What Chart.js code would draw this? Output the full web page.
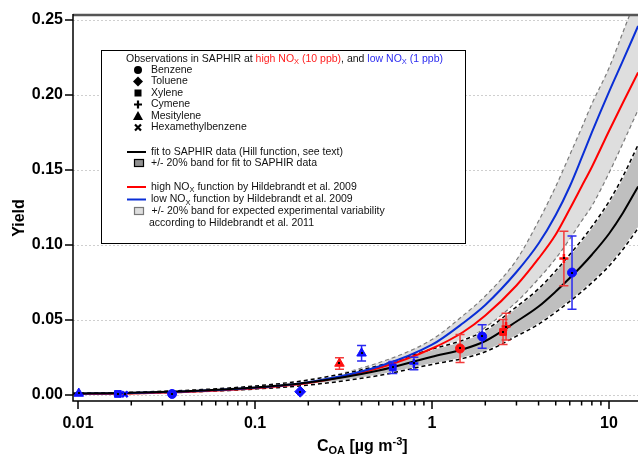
<!DOCTYPE html>
<html><head><meta charset="utf-8">
<script src="https://cdn.jsdelivr.net/npm/chart.js@4"></script>
<style>html,body{margin:0;padding:0;background:#fff;}canvas{display:block;}</style>
</head><body>
<canvas id="c" width="638" height="456"></canvas>
<script>
// ---------- data ----------
const curveX    = [0.0094, 0.02, 0.05, 0.1, 0.2, 0.5, 1, 1.5, 2, 3, 4, 5, 6, 7, 8, 10, 12, 14.6];
const fitY      = [0.0010,0.0015,0.0030,0.0050,0.0083,0.0163,0.0255,0.0305,0.0360,0.0490,0.0590,0.0690,0.0780,0.0860,0.0935,0.1075,0.1215,0.1390];
const fitUpperY = [0.0012,0.0018,0.0036,0.0060,0.0100,0.0196,0.0306,0.0366,0.0432,0.0588,0.0708,0.0828,0.0936,0.1032,0.1122,0.1290,0.1458,0.1668];
const fitLowerY = [0.0008,0.0012,0.0024,0.0040,0.0066,0.0130,0.0204,0.0244,0.0288,0.0392,0.0472,0.0552,0.0624,0.0688,0.0748,0.0860,0.0972,0.1112];
const highNOxY  = [0.0006,0.0010,0.0025,0.0045,0.0080,0.0180,0.0310,0.0420,0.0530,0.0730,0.0910,0.1070,0.1240,0.1390,0.1520,0.1760,0.1950,0.2150];
const lowNOxY   = [0.0008,0.0013,0.0028,0.0048,0.0085,0.0190,0.0335,0.0480,0.0600,0.0820,0.1010,0.1200,0.1390,0.1580,0.1750,0.2020,0.2230,0.2460];
const hildUpperY= [0.0010,0.0016,0.0033,0.0056,0.0098,0.0215,0.0370,0.0530,0.0660,0.0900,0.1160,0.1390,0.1600,0.1780,0.1940,0.2180,0.2420,0.2680];
const hildLowerY= [0.0005,0.0008,0.0021,0.0038,0.0067,0.0150,0.0260,0.0355,0.0450,0.0620,0.0775,0.0910,0.1040,0.1160,0.1260,0.1480,0.1680,0.1900];

const obsX        = [0.0101, 0.0168, 0.0184, 0.034, 0.18, 0.30, 0.40, 0.60, 0.79, 1.44, 1.92, 2.52, 2.62, 5.56, 6.18];
const obsY        = [0.0010, 0.0007, 0.0005, 0.0007, 0.0022, 0.0210, 0.0278, 0.0184, 0.0210, 0.0310, 0.0390, 0.0420, 0.0456, 0.0910, 0.0816];
const obsErr      = [0, 0, 0, 0, 0, 0.0039, 0.0052, 0.0040, 0.0041, 0.0093, 0.0078, 0.0083, 0.0089, 0.0182, 0.0244];
const obsNOx      = ['low','low','low','low','low','high','low','low','low','high','low','high','high','high','low'];
const obsCompound = ['Mesitylene','Xylene','Hexamethylbenzene','Benzene','Toluene','Mesitylene','Mesitylene','Xylene','Cymene','Benzene','Benzene','Xylene','Cymene','Cymene','Benzene'];

const compounds   = ['Benzene','Toluene','Xylene','Cymene','Mesitylene','Hexamethylbenzene'];
const yTicks      = [0, 0.05, 0.10, 0.15, 0.20, 0.25];
const xMajorTicks = [0.01, 0.1, 1, 10];
const xMinorTicks = [0.02,0.03,0.04,0.05,0.06,0.07,0.08,0.09,0.2,0.3,0.4,0.5,0.6,0.7,0.8,0.9,2,3,4,5,6,7,8,9];

// ---------- styles ----------
const FONT = '"Liberation Sans", Arial, sans-serif';
const RED = '#ff0000', BLUE = '#0a2fd6';
const noxColor = {high: '#ff1010', low: '#1010ff'};
const barColor = {high: '#f23a3a', low: '#2a2af0'};
const styleOf = {
  Benzene: {pointStyle:'circle', radius:4.5, bw:1},
  Toluene: {pointStyle:'rectRot', radius:5.5, bw:1},
  Xylene: {pointStyle:'rect', radius:4.8, bw:1},
  Cymene: {pointStyle:'cross', radius:4.5, bw:2.5},
  Mesitylene: {pointStyle:'triangle', radius:5.5, bw:1},
  Hexamethylbenzene: {pointStyle:'crossRot', radius:4, bw:2.5}
};

const pts = ys => curveX.map((x, i) => ({x, y: ys[i]}));
const lineDs = (ys, o) => Object.assign({data: pts(ys), showLine: true, pointRadius: 0, pointHoverRadius: 0,
  fill: false, cubicInterpolationMode: 'monotone', borderWidth: 2}, o);

const datasets = [
  lineDs(hildUpperY, {borderColor:'#7a7a7a', borderWidth:1.2, borderDash:[4,3], fill:{target:1}, backgroundColor:'#dedede', order:20}),
  lineDs(hildLowerY, {borderColor:'#7a7a7a', borderWidth:1.2, borderDash:[4,3], order:19}),
  lineDs(fitUpperY, {borderColor:'#ffffff', borderWidth:2.2, fill:{target:3}, backgroundColor:'#bfbfbf', order:18}),
  lineDs(fitLowerY, {borderColor:'#ffffff', borderWidth:2.2, order:17}),
  lineDs(fitUpperY, {borderColor:'#000000', borderWidth:1.5, borderDash:[4,3], order:16}),
  lineDs(fitLowerY, {borderColor:'#000000', borderWidth:1.5, borderDash:[4,3], order:15}),
  lineDs(highNOxY, {borderColor:RED, order:12}),
  lineDs(lowNOxY, {borderColor:BLUE, order:11}),
  lineDs(fitY, {borderColor:'#000000', order:10})
];
const firstPointDs = datasets.length;
const groups = {};
obsX.forEach((x, i) => {
  const key = obsNOx[i] + '|' + obsCompound[i];
  if (!groups[key]) {
    const st = styleOf[obsCompound[i]], col = noxColor[obsNOx[i]];
    groups[key] = {data: [], showLine: false, pointStyle: st.pointStyle, pointRadius: st.radius, pointHoverRadius: st.radius,
      pointBorderWidth: st.bw, backgroundColor: col, borderColor: col, order: 1};
    datasets.push(groups[key]);
  }
  groups[key].data.push({x, y: obsY[i]});
});

// ---------- custom drawing ----------
let barsDrawn = false;
function drawSubText(ctx, parts, x, y) {
  parts.forEach(p => {
    ctx.fillStyle = p[1];
    ctx.font = p[3];
    let dy = 0;
    if (p[2] === 'sub') dy = p[4] || 3;
    if (p[2] === 'sup') dy = -(p[4] || 5);
    ctx.fillText(p[0], x, y + dy);
    x += ctx.measureText(p[0]).width;
  });
  return x;
}
const plugin = {
  id: 'custom',
  beforeDatasetsDraw(chart) {
    barsDrawn = false;
    const {ctx, chartArea: a, scales: {y}} = chart;
    ctx.save();
    ctx.strokeStyle = '#cfcfcf'; ctx.lineWidth = 1; ctx.setLineDash([2, 2]);
    yTicks.forEach(v => {
      const py = Math.round(y.getPixelForValue(v)) + 0.5;
      ctx.beginPath(); ctx.moveTo(a.left, py); ctx.lineTo(a.right, py); ctx.stroke();
    });
    ctx.restore();
  },
  beforeDatasetDraw(chart, args) {
    if (args.index < firstPointDs || barsDrawn) return;
    barsDrawn = true;
    const {ctx, scales: {x, y}} = chart;
    ctx.save();
    ctx.lineWidth = 1.5;
    obsX.forEach((v, i) => {
      if (!obsErr[i]) return;
      const px = x.getPixelForValue(v);
      const y1 = y.getPixelForValue(obsY[i] - obsErr[i]), y2 = y.getPixelForValue(obsY[i] + obsErr[i]);
      ctx.strokeStyle = barColor[obsNOx[i]];
      ctx.beginPath();
      ctx.moveTo(px, y1); ctx.lineTo(px, y2);
      ctx.moveTo(px - 4.5, y1); ctx.lineTo(px + 4.5, y1);
      ctx.moveTo(px - 4.5, y2); ctx.lineTo(px + 4.5, y2);
      ctx.stroke();
    });
    ctx.restore();
  },
  afterDatasetsDraw(chart) {
    const {ctx, chartArea: a, scales: {x, y}} = chart;
    ctx.save();
    ctx.fillStyle = '#000';
    obsX.forEach((v, i) => {
      const px = Math.round(x.getPixelForValue(v)), py = Math.round(y.getPixelForValue(obsY[i]));
      ctx.fillRect(px - 1, py - 1, 2, 2);
    });
    ctx.strokeStyle = '#555'; ctx.lineWidth = 2.5;
    ctx.beginPath(); ctx.moveTo(a.left, a.top); ctx.lineTo(a.right, a.top); ctx.stroke();
    ctx.strokeStyle = '#000'; ctx.lineWidth = 1.5;
    ctx.beginPath(); ctx.moveTo(a.left, a.top - 1); ctx.lineTo(a.left, a.bottom); ctx.lineTo(a.right, a.bottom); ctx.stroke();
    ctx.beginPath();
    yTicks.forEach(v => { const py = y.getPixelForValue(v); ctx.moveTo(a.left - 8, py); ctx.lineTo(a.left, py); });
    xMajorTicks.forEach(v => { const px = x.getPixelForValue(v); ctx.moveTo(px, a.bottom); ctx.lineTo(px, a.bottom + 8); });
    xMinorTicks.forEach(v => { const px = x.getPixelForValue(v); ctx.moveTo(px, a.bottom); ctx.lineTo(px, a.bottom + 4.5); });
    ctx.stroke();
    ctx.restore();
  },
  afterDraw(chart) {
    const {ctx} = chart;
    ctx.save();
    ctx.fillStyle = '#000';
    ctx.textBaseline = 'alphabetic';
    const big = 'bold 16px ' + FONT, small = 'bold 11px ' + FONT;
    drawSubText(ctx, [['C', '#000', 'n', big], ['OA', '#000', 'sub', small, 3], [' [µg m', '#000', 'n', big], ['-3', '#000', 'sup', small, 6], [']', '#000', 'n', big]], 317, 451);
    ctx.save();
    ctx.translate(24, 218); ctx.rotate(-Math.PI / 2);
    ctx.font = big; ctx.textAlign = 'center'; ctx.fillText('Yield', 0, 0);
    ctx.restore();

    ctx.fillStyle = '#fff'; ctx.fillRect(101, 50, 364, 193);
    ctx.strokeStyle = '#000'; ctx.lineWidth = 1; ctx.strokeRect(101.5, 50.5, 364, 193);
    const f = '10.5px ' + FONT, fs = '7.5px ' + FONT;
    const red = '#ff2020', blue = '#2c2cf0', blk = '#111';
    ctx.textBaseline = 'middle';
    drawSubText(ctx, [['Observations in SAPHIR at ', blk, 'n', f], ['high NO', red, 'n', f], ['X', red, 'sub', fs, 3], [' (10 ppb)', red, 'n', f],
      [', and ', blk, 'n', f], ['low NO', blue, 'n', f], ['X', blue, 'sub', fs, 3], [' (1 ppb)', blue, 'n', f]], 126, 59);
    const rows = [70, 81.5, 93, 104.5, 116, 127.5];
    compounds.forEach((c, i) => {
      const cy = rows[i], cx = 138;
      ctx.fillStyle = '#000'; ctx.strokeStyle = '#000';
      ctx.beginPath();
      if (c === 'Benzene') { ctx.arc(cx, cy, 4, 0, 2 * Math.PI); ctx.fill(); }
      else if (c === 'Toluene') { ctx.moveTo(cx, cy - 5); ctx.lineTo(cx + 5, cy); ctx.lineTo(cx, cy + 5); ctx.lineTo(cx - 5, cy); ctx.closePath(); ctx.fill(); }
      else if (c === 'Xylene') { ctx.fillRect(cx - 3.5, cy - 3.5, 7, 7); }
      else if (c === 'Cymene') { ctx.lineWidth = 2.2; ctx.moveTo(cx - 4, cy); ctx.lineTo(cx + 4, cy); ctx.moveTo(cx, cy - 4); ctx.lineTo(cx, cy + 4); ctx.stroke(); }
      else if (c === 'Mesitylene') { ctx.moveTo(cx, cy - 5); ctx.lineTo(cx + 5, cy + 4); ctx.lineTo(cx - 5, cy + 4); ctx.closePath(); ctx.fill(); }
      else { ctx.lineWidth = 2.2; ctx.moveTo(cx - 3, cy - 3); ctx.lineTo(cx + 3, cy + 3); ctx.moveTo(cx + 3, cy - 3); ctx.lineTo(cx - 3, cy + 3); ctx.stroke(); }
      ctx.fillStyle = blk; ctx.font = f; ctx.fillText(c, 151, cy);
    });
    ctx.lineWidth = 2;
    const lineEntry = (col, y, parts) => {
      ctx.strokeStyle = col; ctx.beginPath(); ctx.moveTo(127, y); ctx.lineTo(146, y); ctx.stroke();
      drawSubText(ctx, parts, 151, y);
    };
    lineEntry('#000', 152, [['fit to SAPHIR data (Hill function, see text)', blk, 'n', f]]);
    ctx.fillStyle = '#909090'; ctx.fillRect(135, 160, 8, 6);
    ctx.strokeStyle = '#000'; ctx.lineWidth = 1.2; ctx.strokeRect(134.5, 159.5, 9, 7);
    drawSubText(ctx, [['+/- 20% band for fit to SAPHIR data', blk, 'n', f]], 151, 163.5);
    ctx.lineWidth = 2;
    lineEntry(RED, 187, [['high NO', blk, 'n', f], ['X', blk, 'sub', fs, 3], [' function by Hildebrandt et al. 2009', blk, 'n', f]]);
    lineEntry(BLUE, 199.5, [['low NO', blk, 'n', f], ['X', blk, 'sub', fs, 3], [' function by Hildebrandt et al. 2009', blk, 'n', f]]);
    ctx.fillStyle = '#dedede'; ctx.fillRect(135, 208, 8, 6);
    ctx.strokeStyle = '#777'; ctx.lineWidth = 1.2; ctx.strokeRect(134.5, 207.5, 9, 7);
    drawSubText(ctx, [['+/- 20% band for expected experimental variability', blk, 'n', f]], 151.5, 211.5);
    drawSubText(ctx, [['according to Hildebrandt et al. 2011', blk, 'n', f]], 149, 223);
    ctx.restore();
  }
};

new Chart(document.getElementById('c'), {
  type: 'scatter',
  data: {datasets},
  plugins: [plugin],
  options: {
    responsive: false, animation: false, devicePixelRatio: 1,
    layout: {autoPadding: false, padding: {top: 15, right: 0, left: 0, bottom: 0}},
    plugins: {legend: {display: false}, tooltip: {enabled: false}},
    events: [],
    scales: {
      x: {
        type: 'logarithmic', min: 0.00937, max: 14.58,
        grid: {display: false, drawTicks: false, tickLength: 0}, border: {display: false},
        afterBuildTicks: s => { s.ticks = xMajorTicks.map(v => ({value: v})); },
        afterFit: s => { s.height = 55; s.paddingLeft = 0; s.paddingRight = 0; },
        ticks: {autoSkip: false, maxRotation: 0, padding: 13, color: '#000',
          font: {family: FONT, size: 16, weight: 'bold'}, callback: v => String(v)}
      },
      y: {
        type: 'linear', min: -0.004, max: 0.2533,
        grid: {display: false, drawTicks: false, tickLength: 0}, border: {display: false},
        afterBuildTicks: s => { s.ticks = yTicks.map(v => ({value: v})); },
        afterFit: s => { s.width = 73; s.paddingTop = 0; s.paddingBottom = 0; },
        ticks: {padding: 10, color: '#000', font: {family: FONT, size: 16, weight: 'bold'},
          callback: v => Number(v).toFixed(2)}
      }
    }
  }
});
</script>
</body></html>
